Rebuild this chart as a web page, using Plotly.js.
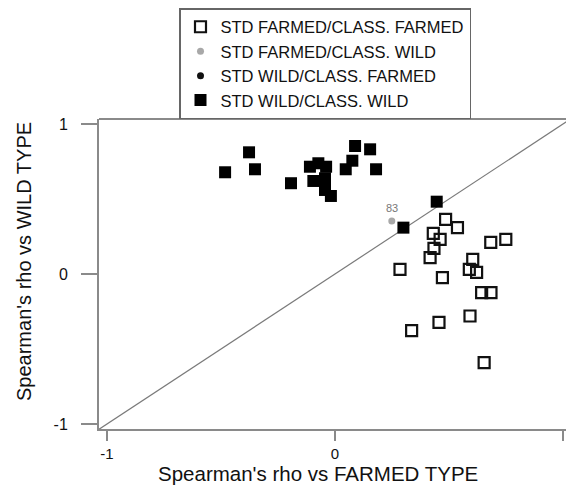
<!DOCTYPE html>
<html>
<head>
<meta charset="utf-8">
<script src="https://cdn.plot.ly/plotly-3.0.1.min.js"></script>
<style>html,body{margin:0;padding:0;background:#fff}#chart{width:566px;height:492px}</style>
</head>
<body>
<div id="chart"></div>
<script>
// Series: STD FARMED / CLASS. FARMED (open squares)
const farmedFarmedX = [0.485, 0.537, 0.431, 0.461, 0.434, 0.417, 0.285, 0.471, 0.683, 0.749, 0.604, 0.589, 0.621, 0.643, 0.684, 0.592, 0.456, 0.336, 0.654];
const farmedFarmedY = [0.364, 0.309, 0.271, 0.231, 0.171, 0.109, 0.031, -0.024, 0.211, 0.231, 0.098, 0.031, 0.011, -0.124, -0.124, -0.280, -0.322, -0.378, -0.591];
// Series: STD FARMED / CLASS. WILD (grey dot, labelled)
const farmedWildX = [0.249];
const farmedWildY = [0.353];
const farmedWildLabels = ["83"];
// Series: STD WILD / CLASS. FARMED (black dot) - no visible points
const wildFarmedX = [null];
const wildFarmedY = [null];
// Series: STD WILD / CLASS. WILD (filled squares)
const wildWildX = [-0.482, -0.377, -0.351, -0.193, -0.110, -0.073, -0.039, -0.095, -0.044, -0.044, -0.018, 0.047, 0.076, 0.088, 0.154, 0.180, 0.446, 0.300];
const wildWildY = [0.678, 0.811, 0.698, 0.605, 0.715, 0.738, 0.715, 0.620, 0.638, 0.560, 0.520, 0.698, 0.755, 0.853, 0.831, 0.698, 0.482, 0.309];
// Identity reference line y = x
const identity = [-2, 2];
// Tick values
const tickValues = [-1, 0, 1];
const tickLabels = ["-1", "0", "1"];

const FONT = "Liberation Sans, Arial, Helvetica, sans-serif";
const AXIS = "#8a8a8a";

const traces = [
  {x: identity, y: identity, mode: "lines", line: {color: "#7a7a7a", width: 1.2}, showlegend: false, hoverinfo: "skip"},
  {x: farmedFarmedX, y: farmedFarmedY, mode: "markers", name: "STD FARMED/CLASS. FARMED",
   marker: {symbol: "square-open", size: 11, color: "#111", line: {width: 2.2, color: "#111"}}},
  {x: farmedWildX, y: farmedWildY, mode: "markers", name: "STD FARMED/CLASS. WILD",
   marker: {symbol: "circle", size: 7, color: "#a8a8a8"}},
  {x: wildFarmedX, y: wildFarmedY, mode: "markers", name: "STD WILD/CLASS. FARMED",
   marker: {symbol: "circle", size: 7, color: "#111"}},
  {x: wildWildX, y: wildWildY, mode: "markers", name: "STD WILD/CLASS. WILD",
   marker: {symbol: "square", size: 12, color: "#000"}}
];

const annotations = farmedWildLabels.map((t, i) => ({
  x: farmedWildX[i], y: farmedWildY[i], xref: "x", yref: "y", text: t, showarrow: false,
  yshift: 13, font: {family: FONT, size: 11, color: "#777"}
}));
annotations.push({
  xref: "paper", yref: "paper", x: (318 - 99) / 467, y: (429 - 473) / 310,
  xanchor: "center", yanchor: "middle",
  text: "Spearman's rho vs FARMED TYPE", showarrow: false,
  font: {family: FONT, size: 20.5, color: "#111"}
});
annotations.push({
  xref: "paper", yref: "paper", x: (24 - 99) / 467, y: (429 - 262) / 310,
  xanchor: "center", yanchor: "middle",
  text: "Spearman's rho vs WILD TYPE", showarrow: false, textangle: -90,
  font: {family: FONT, size: 20, color: "#111"}
});

const layout = {
  width: 566, height: 492,
  margin: {l: 99, r: 0, t: 119, b: 63, pad: 0},
  paper_bgcolor: "#fff", plot_bgcolor: "#fff",
  font: {family: FONT, color: "#111"},
  xaxis: {
    range: [-1.035, 1.013], tickvals: tickValues, ticktext: tickLabels,
    showgrid: false, zeroline: false, showline: true, linecolor: AXIS, linewidth: 2,
    ticks: "outside", ticklen: 10, tickwidth: 1.5, tickcolor: AXIS,
    tickfont: {family: FONT, size: 15, color: "#111"}
  },
  yaxis: {
    range: [-1.033, 1.033], tickvals: tickValues, ticktext: tickLabels,
    showgrid: false, zeroline: false, showline: true, linecolor: AXIS, linewidth: 2,
    ticks: "outside", ticklen: 16, tickwidth: 1.5, tickcolor: AXIS,
    ticklabelstandoff: 10,
    tickfont: {family: FONT, size: 16, color: "#111"}
  },
  shapes: [{type: "line", xref: "paper", yref: "paper", x0: 0, x1: 1, y0: 1, y1: 1,
            line: {color: AXIS, width: 2}}],
  legend: {
    x: (179 - 99) / 467, y: (429 - 8) / 310, xanchor: "left", yanchor: "top",
    bordercolor: "#666", borderwidth: 1.5, bgcolor: "#fff",
    font: {family: FONT, size: 16.5, color: "#111"}, tracegroupgap: 0
  },
  annotations: annotations,
  showlegend: true
};

Plotly.newPlot("chart", traces, layout, {displayModeBar: false, staticPlot: true});
</script>
</body>
</html>
